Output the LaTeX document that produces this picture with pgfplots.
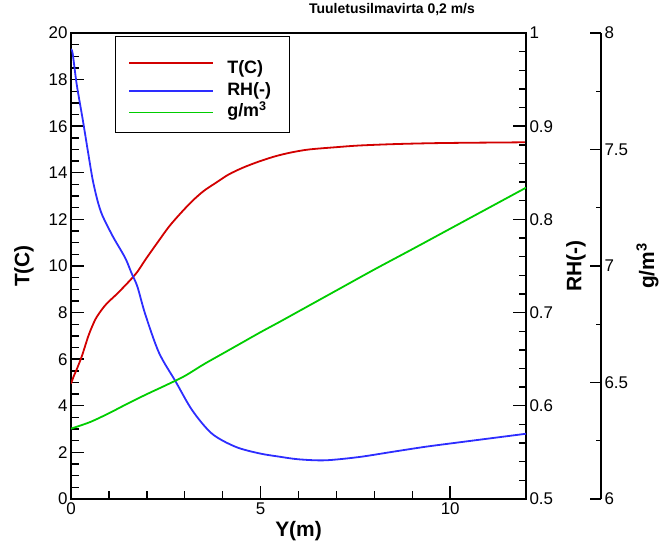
\documentclass[border=0pt]{standalone}
\usepackage{fontspec}
\setmainfont{Liberation Sans}
\usepackage{pgfplots}
\pgfplotsset{compat=1.18}

\definecolor{tred}{RGB}{210,0,0}
\definecolor{rhblue}{RGB}{45,45,255}
\definecolor{ggreen}{RGB}{0,205,0}

\newcommand{\lblfont}{\bfseries\fontsize{21}{21}\selectfont}

\pgfplotsset{
  base/.style={
    at={(71bp,48bp)}, anchor=south west,
    scale only axis, width=455bp, height=466bp,
    xmin=0, xmax=12,
    /pgf/number format/assume math mode=true,
    tick label style={font=\fontsize{17}{17}\selectfont},
    major tick length=13bp, minor tick length=7.5bp,
    every tick/.style={black, line width=1.4bp},
    axis line style={line width=2.5bp},
    tick align=inside,
    label style={font=\lblfont},
  },
  curve/.style={line width=1.8bp},
}

\begin{document}
\begin{tikzpicture}
\path[use as bounding box] (0,0) rectangle (662bp,547bp);

% temperature, left axis with frame
\begin{axis}[base,
  ymin=0, ymax=20,
  xtick={0,5,10}, minor x tick num=4,
  ytick={0,2,...,20}, minor y tick num=3,
  xtick pos=bottom, ytick pos=left,
  xlabel={Y(m)}, ylabel={T(C)},
  xlabel style={at={(axis description cs:0.5,-0.0687)}, anchor=center},
  ylabel style={at={(axis description cs:-0.1033,0.5)}, anchor=center},
  title={Tuuletusilmavirta 0,2 m/s},
  title style={at={(axis description cs:0.7055,1.0365)}, anchor=center,
    font=\bfseries\fontsize{14}{14}\selectfont},
  legend style={at={(axis description cs:0.0967,0.9936)}, anchor=north west,
    draw=black, line width=1bp, fill=white,
    inner xsep=13bp, inner ysep=11.5bp, row sep=4.5bp,
    font=\bfseries\fontsize{18}{18}\selectfont,
    nodes={inner sep=0pt, text width=49bp, text height=13bp, text depth=4bp},
    /tikz/every odd column/.append style={column sep=13bp}},
  legend cell align=left,
  legend image code/.code={\draw[#1] (0bp,0bp) -- (84bp,0bp);},
]
\addplot[tred, curve, smooth, tension=0.5] coordinates {
  (0,4.95) (0.08,5.3) (0.16,5.6) (0.29,6.15) (0.47,7.05) (0.64,7.70)
  (0.80,8.10) (0.95,8.40) (1.21,8.80) (1.52,9.32) (1.75,9.75) (1.97,10.29)
  (2.30,11.05) (2.59,11.70) (2.90,12.28) (3.20,12.79) (3.50,13.22)
  (3.82,13.57) (4.15,13.92) (4.52,14.21) (4.95,14.48) (5.39,14.71)
  (5.80,14.87) (6.27,15.00) (7.00,15.10) (7.59,15.17) (8.50,15.23)
  (9.50,15.27) (10.50,15.29) (11.30,15.30) (12,15.31)
};
\addlegendentry[text height=26bp]{T(C)}
\addlegendimage{rhblue, curve}
\addlegendentry{RH(-)}
\addlegendimage{ggreen, curve}
\addlegendentry{g/m\textsuperscript{3}}
\end{axis}

% relative humidity, right axis
\begin{axis}[base,
  ymin=0.5, ymax=1,
  axis x line=none, axis y line*=right,
  ytick={0.5,0.6,0.7,0.8,0.9,1}, minor y tick num=4,
  ylabel={RH(-)},
  ylabel style={at={(axis description cs:1.110,0.5)}, anchor=center},
]
\addplot[rhblue, curve, smooth, tension=0.5] coordinates {
  (0,0.981) (0.04,0.979) (0.15,0.945) (0.31,0.907) (0.45,0.872) (0.57,0.843)
  (0.70,0.820) (0.83,0.804) (1.10,0.782) (1.30,0.768) (1.45,0.757)
  (1.60,0.742) (1.75,0.728) (1.96,0.698) (2.32,0.657) (2.76,0.626)
  (3.20,0.595) (3.72,0.570) (4.34,0.556) (4.96,0.549) (5.48,0.5455)
  (6.00,0.5426) (6.70,0.5415) (7.59,0.545) (8.46,0.5505) (9.34,0.556)
  (10.22,0.5607) (11.10,0.5653) (12,0.5700)
};
\end{axis}

% absolute humidity curve
\begin{axis}[base, hide axis, ymin=6, ymax=8]
\addplot[ggreen, curve, smooth, tension=0.5] coordinates {
  (0,6.302) (0.5,6.330) (1,6.368) (1.5,6.410) (2,6.450) (2.5,6.488)
  (3,6.528) (3.5,6.578) (4,6.624) (4.5,6.670) (5,6.716) (5.5,6.760)
  (6,6.805) (7,6.895) (8,6.985) (9,7.072) (10,7.160) (11,7.248) (12,7.336)
};
\end{axis}

% absolute humidity, outer right axis
\begin{axis}[base, width=530bp,
  xmin=0, xmax=1, ymin=6, ymax=8,
  axis x line=none, axis y line*=right,
  ytick={6,6.5,7,7.5,8}, minor y tick num=1,
  major tick length=11.5bp, minor tick length=5.5bp,
  ylabel={g/m\textsuperscript{3}},
  ylabel style={at={(axis description cs:1.0877,0.5)}, anchor=center},
]
\end{axis}
\end{tikzpicture}
\end{document}
